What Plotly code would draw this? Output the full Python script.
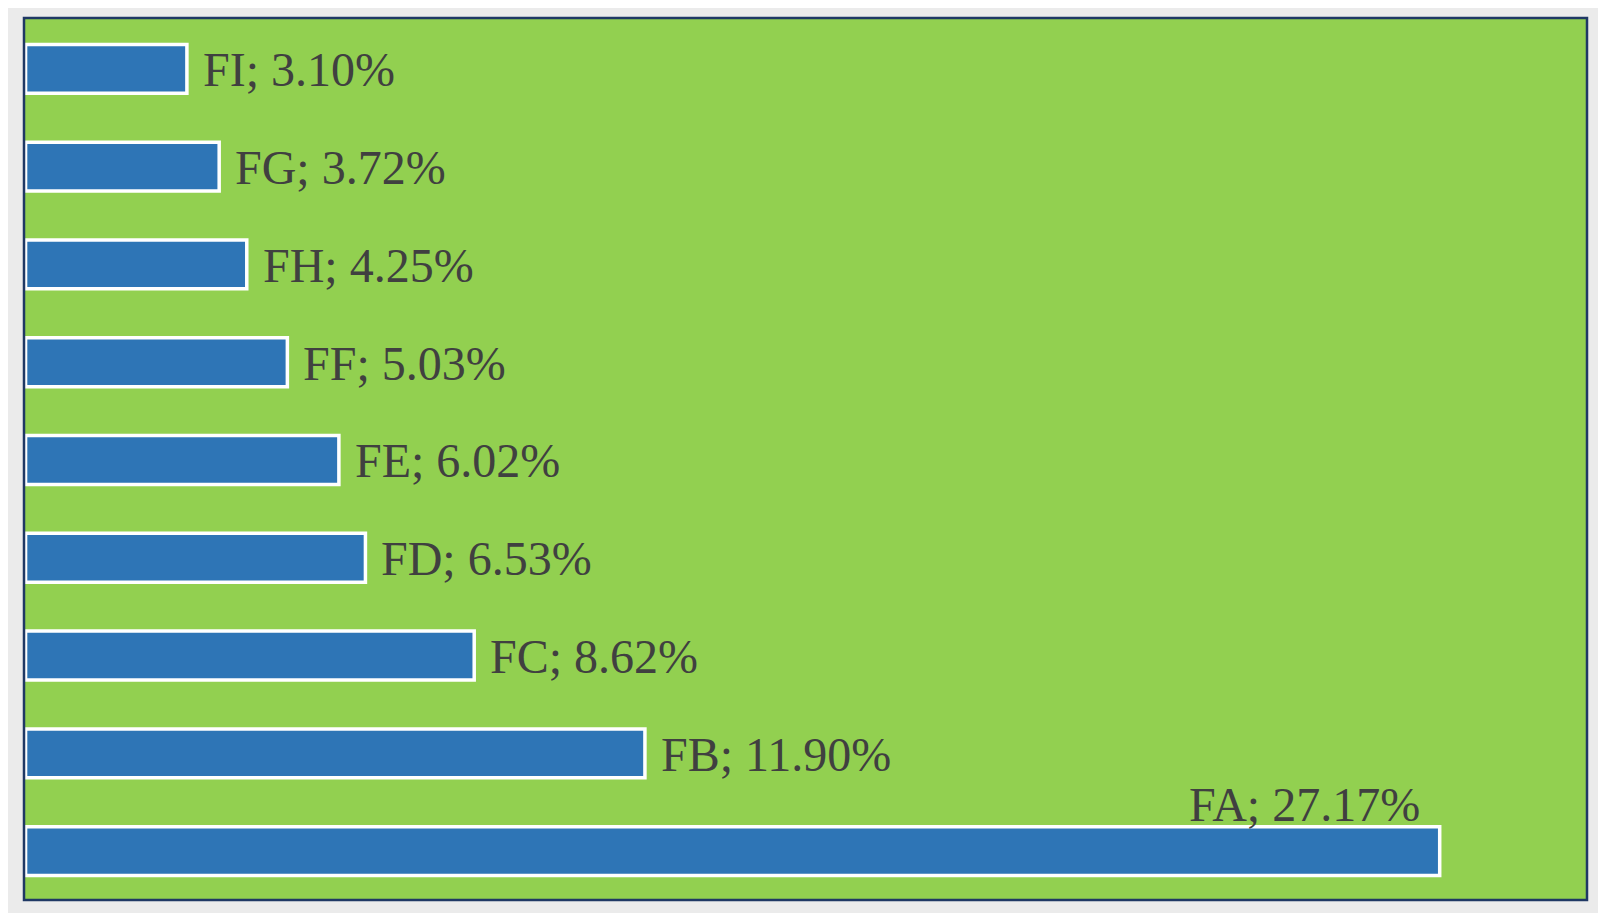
import plotly.graph_objects as go

categories = ["FA", "FB", "FC", "FD", "FE", "FF", "FH", "FG", "FI"]
values = [27.17, 11.90, 8.62, 6.53, 6.02, 5.03, 4.25, 3.72, 3.10]

fig = go.Figure()
fig.add_trace(go.Bar(
    x=values, y=categories, orientation="h",
    marker=dict(color="#2E75B6", line=dict(color="#FFFFFF", width=3.5)),
    width=0.5, hoverinfo="skip",
))

annotations = []
for c, v in zip(categories, values):
    label = f"{c}; {v:.2f}%"
    if c == "FA":
        annotations.append(dict(x=v, y=c, text=label, showarrow=False,
                                xanchor="right", yanchor="bottom",
                                xshift=-18, yshift=18))
    else:
        annotations.append(dict(x=v, y=c, text=label, showarrow=False,
                                xanchor="left", yanchor="middle",
                                xshift=14, yshift=-1))

fig.update_layout(
    width=1598, height=905,
    margin=dict(l=16, r=19, t=10, b=13),
    paper_bgcolor="#EBEBEB",
    plot_bgcolor="#92D050",
    showlegend=False,
    font=dict(family="Liberation Serif, Times New Roman, serif", size=48, color="#404040"),
    annotations=annotations,
    xaxis=dict(range=[-0.03, 30], showgrid=False, zeroline=False, showticklabels=False,
               ticks="", showline=False),
    yaxis=dict(range=[-0.5, 8.52], showgrid=False, zeroline=False, showticklabels=False,
               ticks="", showline=False),
    shapes=[dict(type="rect", xref="paper", yref="paper", x0=0, x1=1, y0=0, y1=1,
                 line=dict(color="#1F3864", width=2.5), layer="above")],
)

fig.write_html("out.html")
